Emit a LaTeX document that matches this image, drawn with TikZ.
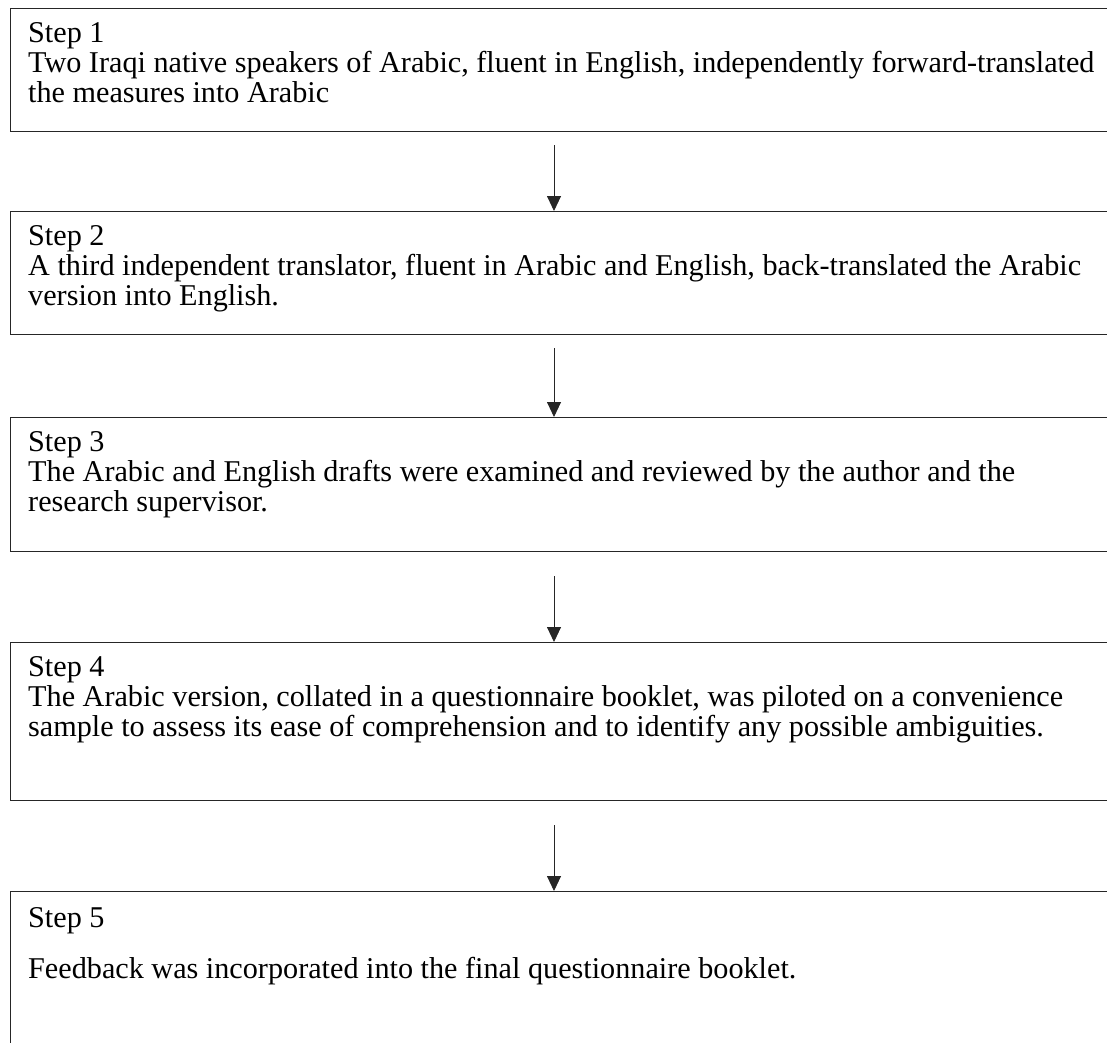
\documentclass[tikz,border=0pt]{standalone}
\usepackage{fontspec}
\setmainfont{Liberation Serif}
\usetikzlibrary{arrows.meta,calc}
\begin{document}
\begin{tikzpicture}[x=1pt,y=1pt,
  box/.style={draw=black!85, line width=1.1pt, rectangle, minimum width=1200pt, inner sep=0pt, anchor=north west},
  txt/.style={anchor=base west, align=left, inner sep=0pt, font=\fontsize{30.2}{30}\selectfont},
  arr/.style={draw=black!85, line width=0.9pt, -{Triangle[width=14pt,length=15pt]}}]
\useasboundingbox (0,0) rectangle (1107,-1042);
\clip (0,0) rectangle (1107,-1042);
\coordinate (ax) at (554,0);
% boxes
\node[box, minimum height=123pt] (b1) at (10,-8) {};
\node[box, minimum height=123pt] (b2) at (10,-211) {};
\node[box, minimum height=134pt] (b3) at (10,-417) {};
\node[box, minimum height=158pt] (b4) at (10,-642) {};
\node[box, minimum height=210pt] (b5) at (10,-891) {};
% texts (anchored at the baseline of the last line)
\node[txt] (t1) at (28,-102) {Step 1\\Two Iraqi native speakers of Arabic, fluent in English, independently forward-translated\\the measures into Arabic};
\node[txt] (t2) at (28,-305) {Step 2\\A third independent translator, fluent in Arabic and English, back-translated the Arabic\\version into English.};
\node[txt] (t3) at (28,-511) {Step 3\\The Arabic and English drafts were examined and reviewed by the author and the\\research supervisor.};
\node[txt] (t4) at (28,-736) {Step 4\\The Arabic version, collated in a questionnaire booklet, was piloted on a convenience\\sample to assess its ease of comprehension and to identify any possible ambiguities.};
\node[txt] (t5a) at (28,-927) {Step 5};
\node[txt] (t5b) at (28,-978) {Feedback was incorporated into the final questionnaire booklet.};
% arrows
\draw[arr] ($(b1.south -| ax)+(0,-13)$) -- (b2.north -| ax);
\draw[arr] ($(b2.south -| ax)+(0,-13)$) -- (b3.north -| ax);
\draw[arr] ($(b3.south -| ax)+(0,-24)$) -- (b4.north -| ax);
\draw[arr] ($(b4.south -| ax)+(0,-24)$) -- (b5.north -| ax);
\end{tikzpicture}
\end{document}
